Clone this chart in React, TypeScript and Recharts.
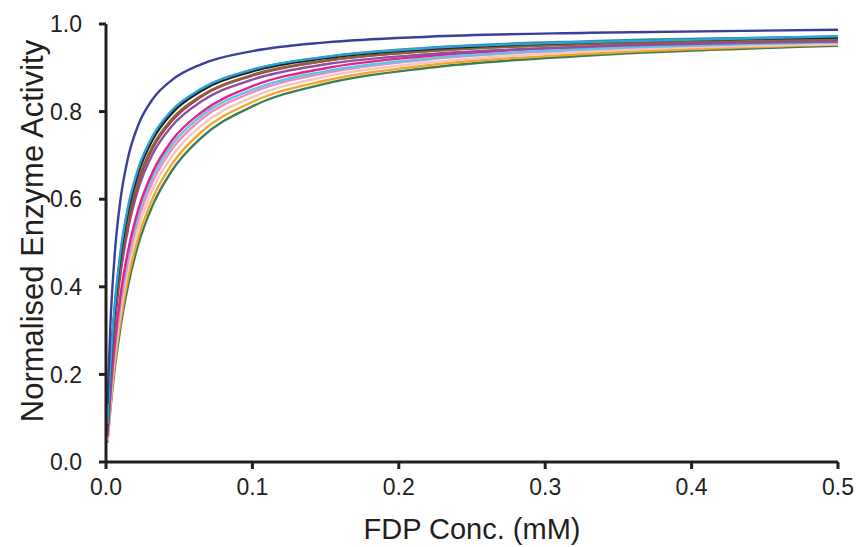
import { LineChart, Line, XAxis, YAxis } from "recharts";

// FDP concentration (mM) sampled along each fitted curve
const fdpConc = [0.001, 0.003, 0.006, 0.01, 0.015, 0.022, 0.032, 0.045, 0.065, 0.1, 0.15, 0.22, 0.33, 0.5];

// normalised activity per curve (top to bottom)
const navy = [0.132, 0.313, 0.476, 0.602, 0.694, 0.769, 0.829, 0.872, 0.908, 0.938, 0.958, 0.971, 0.98, 0.987];
const cyan = [0.086, 0.22, 0.36, 0.483, 0.582, 0.67, 0.745, 0.803, 0.852, 0.896, 0.925, 0.945, 0.959, 0.972];
const black = [0.083, 0.212, 0.349, 0.471, 0.571, 0.66, 0.737, 0.796, 0.847, 0.892, 0.922, 0.943, 0.958, 0.969];
const teal = [0.084, 0.216, 0.354, 0.477, 0.577, 0.665, 0.742, 0.8, 0.851, 0.895, 0.925, 0.946, 0.961, 0.971];
const brown = [0.077, 0.2, 0.333, 0.453, 0.553, 0.643, 0.722, 0.783, 0.836, 0.884, 0.916, 0.938, 0.954, 0.965];
const maroon = [0.075, 0.195, 0.326, 0.446, 0.546, 0.637, 0.717, 0.779, 0.834, 0.882, 0.916, 0.938, 0.955, 0.966];
const purple = [0.071, 0.187, 0.314, 0.432, 0.531, 0.623, 0.704, 0.767, 0.823, 0.873, 0.908, 0.931, 0.948, 0.96];
const magenta = [0.059, 0.157, 0.271, 0.383, 0.481, 0.576, 0.663, 0.734, 0.798, 0.858, 0.899, 0.927, 0.949, 0.964];
const lightCyan = [0.057, 0.152, 0.264, 0.374, 0.471, 0.566, 0.653, 0.724, 0.79, 0.85, 0.892, 0.921, 0.943, 0.958];
const pink = [0.054, 0.145, 0.253, 0.361, 0.458, 0.553, 0.641, 0.714, 0.782, 0.844, 0.888, 0.919, 0.942, 0.958];
const paleRose = [0.05, 0.136, 0.24, 0.344, 0.439, 0.534, 0.624, 0.698, 0.768, 0.833, 0.88, 0.912, 0.937, 0.954];
const orange = [0.046, 0.126, 0.224, 0.325, 0.418, 0.512, 0.603, 0.68, 0.753, 0.822, 0.871, 0.906, 0.932, 0.953];
const green = [0.044, 0.12, 0.213, 0.31, 0.402, 0.496, 0.587, 0.665, 0.74, 0.812, 0.864, 0.9, 0.928, 0.95];

const xTicks = [0, 0.1, 0.2, 0.3, 0.4, 0.5];
const yTicks = [0, 0.2, 0.4, 0.6, 0.8, 1.0];

const series = [
  { key: "green", values: green, color: "#3f7d57" },
  { key: "orange", values: orange, color: "#f5a623" },
  { key: "paleRose", values: paleRose, color: "#f5c6c4" },
  { key: "pink", values: pink, color: "#f08cb8" },
  { key: "lightCyan", values: lightCyan, color: "#5cc6e6" },
  { key: "magenta", values: magenta, color: "#e5228c" },
  { key: "purple", values: purple, color: "#8d4f9f" },
  { key: "maroon", values: maroon, color: "#9e3d4f" },
  { key: "brown", values: brown, color: "#8c6239" },
  { key: "teal", values: teal, color: "#3c8c96" },
  { key: "black", values: black, color: "#231f20" },
  { key: "cyan", values: cyan, color: "#2ba3d6" },
  { key: "navy", values: navy, color: "#3b3f9c" },
];

const data = fdpConc.map((x, i) => {
  const row: Record<string, number> = { x };
  series.forEach((s) => (row[s.key] = s.values[i]));
  return row;
});

const FONT = "'Liberation Sans', Arial, sans-serif";
const INK = "#231f20";

export default function App() {
  return (
    <div style={{ position: "absolute", left: 0, top: 0, background: "#fff" }}>
      <LineChart width={859} height={547} data={data} margin={{ top: 24, right: 21, bottom: 0, left: 0 }}>
        <XAxis
          dataKey="x"
          type="number"
          domain={[0, 0.5]}
          ticks={xTicks}
          tickFormatter={(v) => Number(v).toFixed(1)}
          height={85}
          tickSize={7}
          tickMargin={10}
          axisLine={{ stroke: INK, strokeWidth: 3 }}
          tickLine={{ stroke: INK, strokeWidth: 3 }}
          tick={{ fill: INK, fontSize: 23, fontFamily: FONT }}
          label={{ value: "FDP  Conc. (mM)", position: "center", dy: 24, fill: INK, fontSize: 29, fontFamily: FONT }}
        />
        <YAxis
          type="number"
          domain={[0, 1]}
          ticks={yTicks}
          tickFormatter={(v) => Number(v).toFixed(1)}
          width={106}
          tickSize={7}
          tickMargin={17}
          axisLine={{ stroke: INK, strokeWidth: 3 }}
          tickLine={{ stroke: INK, strokeWidth: 3 }}
          tick={{ fill: INK, fontSize: 23, fontFamily: FONT }}
          label={{
            content: () => (
              <text
                x={32}
                y={231}
                transform="rotate(-90 32 231)"
                textAnchor="middle"
                dominantBaseline="central"
                fill={INK}
                fontSize={31}
                fontFamily={FONT}
              >
                Normalised Enzyme Activity
              </text>
            ),
          }}
        />
        {series.map((s) => (
          <Line
            key={s.key}
            dataKey={s.key}
            type="monotone"
            stroke={s.color}
            strokeWidth={2.4}
            dot={false}
            isAnimationActive={false}
          />
        ))}
      </LineChart>
    </div>
  );
}
